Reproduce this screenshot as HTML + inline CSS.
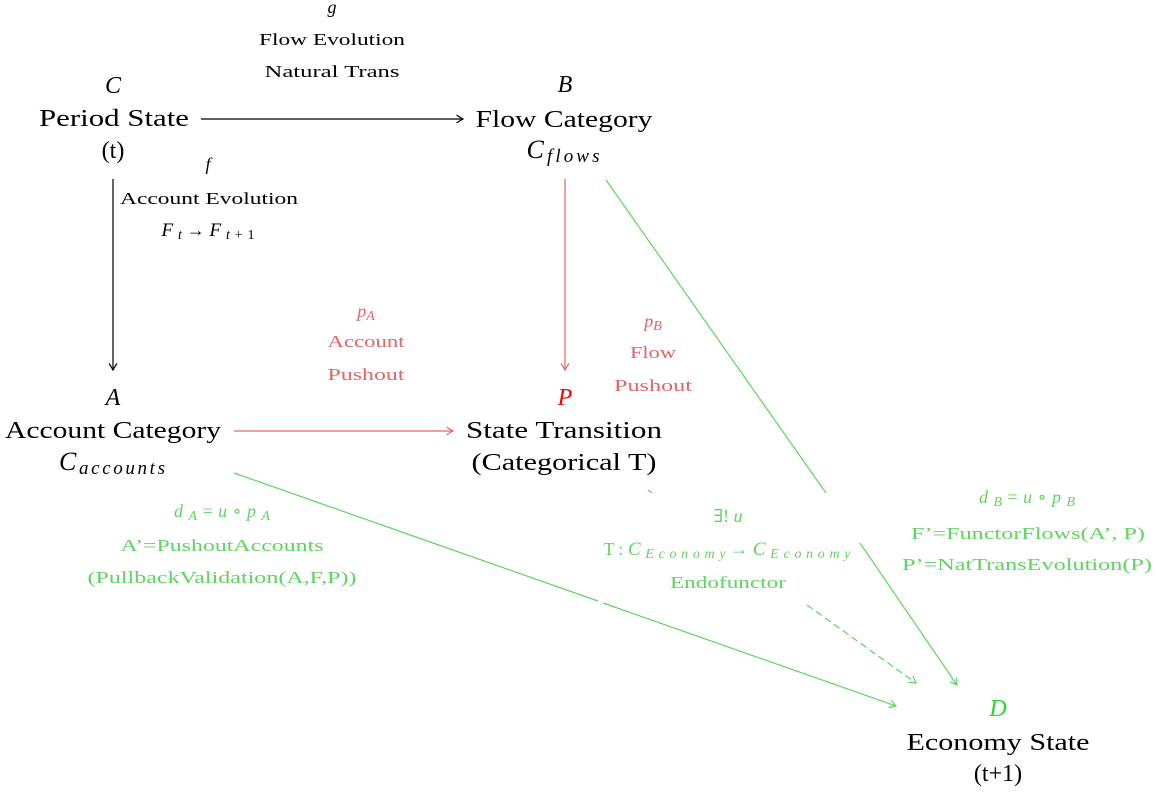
<!DOCTYPE html>
<html><head><meta charset="utf-8"><style>
html,body{margin:0;padding:0;background:#fff;}
svg{display:block;}
text{font-family:"Liberation Serif","DejaVu Serif",serif;}
.big{font-size:24px;fill:#000;}
.sm{font-size:17px;}
.it{font-style:italic;}
.r{fill:#e06666;}
.g{fill:#5fd35f;}
</style></head><body>
<svg width="1158" height="795" viewBox="0 0 1158 795" xmlns="http://www.w3.org/2000/svg">
<defs>
<marker id="ak" viewBox="-8 -5 10 10" refX="0" refY="0" markerWidth="10" markerHeight="10" markerUnits="userSpaceOnUse" orient="auto"><path d="M-6.5,-4 Q-2,-1 0,0 Q-2,1 -6.5,4" fill="none" stroke="#000" stroke-width="1.2"/></marker>
<marker id="ar" viewBox="-8 -5 10 10" refX="0" refY="0" markerWidth="10" markerHeight="10" markerUnits="userSpaceOnUse" orient="auto"><path d="M-6.5,-4 Q-2,-1 0,0 Q-2,1 -6.5,4" fill="none" stroke="#e06666" stroke-width="1.2"/></marker>
<marker id="ag" viewBox="-8 -5 10 10" refX="0" refY="0" markerWidth="10" markerHeight="10" markerUnits="userSpaceOnUse" orient="auto"><path d="M-6.5,-4 Q-2,-1 0,0 Q-2,1 -6.5,4" fill="none" stroke="#5fd35f" stroke-width="1.2"/></marker>
</defs>

<!-- edges -->
<line x1="201" y1="119" x2="463" y2="119" stroke="#000" stroke-width="1.2" marker-end="url(#ak)"/>
<line x1="113" y1="179" x2="113" y2="370" stroke="#000" stroke-width="1.2" marker-end="url(#ak)"/>
<line x1="234" y1="431" x2="453" y2="431" stroke="#e06666" stroke-width="1.2" marker-end="url(#ar)"/>
<line x1="565" y1="179" x2="565" y2="370" stroke="#e06666" stroke-width="1.2" marker-end="url(#ar)"/>
<line x1="606" y1="180" x2="826" y2="493" stroke="#5fd35f" stroke-width="1.2"/>
<line x1="860" y1="543" x2="957" y2="685" stroke="#5fd35f" stroke-width="1.2" marker-end="url(#ag)"/>
<line x1="234" y1="473" x2="598" y2="601" stroke="#5fd35f" stroke-width="1.2"/>
<line x1="603" y1="603" x2="896" y2="706" stroke="#5fd35f" stroke-width="1.2" marker-end="url(#ag)"/>
<line x1="807" y1="605" x2="916" y2="683" stroke="#5fd35f" stroke-width="1.2" stroke-dasharray="7,4" marker-end="url(#ag)"/>
<line x1="648" y1="490" x2="652" y2="493" stroke="#5fd35f" stroke-width="1.2"/>

<!-- C node -->
<text class="big it" x="113" y="93" text-anchor="middle">C</text>
<text class="big" x="114" y="126" text-anchor="middle" textLength="150" lengthAdjust="spacingAndGlyphs">Period State</text>
<text class="big" x="113" y="158" text-anchor="middle">(t)</text>

<!-- B node -->
<text class="big it" x="565" y="92" text-anchor="middle">B</text>
<text class="big" x="564" y="127" text-anchor="middle" textLength="177" lengthAdjust="spacingAndGlyphs">Flow Category</text>
<text class="big" x="563" y="158" text-anchor="middle" textLength="73"><tspan class="it" style="font-size:26px">C</tspan><tspan class="it" style="font-size:19px" dy="4">flows</tspan></text>

<!-- A node -->
<text class="big it" x="113" y="405" text-anchor="middle">A</text>
<text class="big" x="113" y="438" text-anchor="middle" textLength="216" lengthAdjust="spacingAndGlyphs">Account Category</text>
<text class="big" x="112" y="470" text-anchor="middle" textLength="106"><tspan class="it" style="font-size:26px">C</tspan><tspan class="it" style="font-size:19px" dy="4">accounts</tspan></text>

<!-- P node -->
<text class="big it" x="565" y="405" text-anchor="middle" style="fill:#ff0000">P</text>
<text class="big" x="564" y="438" text-anchor="middle" textLength="196" lengthAdjust="spacingAndGlyphs">State Transition</text>
<text class="big" x="564" y="470" text-anchor="middle" textLength="185" lengthAdjust="spacingAndGlyphs">(Categorical T)</text>

<!-- D node -->
<text class="big it" x="998" y="716" text-anchor="middle" style="fill:#22dd22">D</text>
<text class="big" x="998" y="750" text-anchor="middle" textLength="183" lengthAdjust="spacingAndGlyphs">Economy State</text>
<text class="big" x="998" y="781" text-anchor="middle">(t+1)</text>

<!-- g label -->
<text class="it" x="332" y="13" text-anchor="middle" style="font-size:18px">g</text>
<text class="sm" x="332" y="45" text-anchor="middle" textLength="146" lengthAdjust="spacingAndGlyphs">Flow Evolution</text>
<text class="sm" x="332" y="77" text-anchor="middle" textLength="135" lengthAdjust="spacingAndGlyphs">Natural Trans</text>

<!-- f label -->
<text class="it" x="208" y="170" text-anchor="middle" style="font-size:18px">f</text>
<text class="sm" x="209" y="204" text-anchor="middle" textLength="178" lengthAdjust="spacingAndGlyphs">Account Evolution</text>
<text x="208" y="236" text-anchor="middle" textLength="93" style="font-size:18px"><tspan class="it" style="font-size:19px">F</tspan><tspan class="it" style="font-size:14px" dy="3">t</tspan><tspan dy="-3">→</tspan><tspan class="it" style="font-size:19px">F</tspan><tspan class="it" style="font-size:14px" dy="3">t</tspan><tspan style="font-size:14px">+1</tspan></text>

<!-- p_A label -->
<text class="r" x="366" y="317" text-anchor="middle" style="font-size:18px"><tspan class="it">p</tspan><tspan class="it" style="font-size:14px" dy="3">A</tspan></text>
<text class="sm r" x="366" y="347" text-anchor="middle" textLength="77" lengthAdjust="spacingAndGlyphs">Account</text>
<text class="sm r" x="366" y="380" text-anchor="middle" textLength="77" lengthAdjust="spacingAndGlyphs">Pushout</text>

<!-- p_B label -->
<text class="r" x="653" y="327" text-anchor="middle" style="font-size:18px"><tspan class="it">p</tspan><tspan class="it" style="font-size:14px" dy="3">B</tspan></text>
<text class="sm r" x="653" y="358" text-anchor="middle" textLength="46" lengthAdjust="spacingAndGlyphs">Flow</text>
<text class="sm r" x="653" y="391" text-anchor="middle" textLength="78" lengthAdjust="spacingAndGlyphs">Pushout</text>

<!-- d_A label -->
<text class="g" x="222" y="517" text-anchor="middle" textLength="96" style="font-size:18px"><tspan class="it">d</tspan><tspan class="it" style="font-size:14px" dy="3">A</tspan><tspan dy="-3">=</tspan><tspan class="it">u</tspan><tspan>∘</tspan><tspan class="it">p</tspan><tspan class="it" style="font-size:14px" dy="3">A</tspan></text>
<text class="sm g" x="222" y="551" text-anchor="middle" textLength="203" lengthAdjust="spacingAndGlyphs">A’=PushoutAccounts</text>
<text class="sm g" x="222" y="583" text-anchor="middle" textLength="269" lengthAdjust="spacingAndGlyphs">(PullbackValidation(A,F,P))</text>

<!-- u label -->
<text class="g" x="728" y="522" text-anchor="middle" style="font-size:18px">∃! <tspan class="it">u</tspan></text>
<text class="g" x="727" y="555" text-anchor="middle" textLength="247" style="font-size:18px">T:<tspan class="it" style="font-size:19px">C</tspan><tspan class="it" style="font-size:14px" dy="3">Economy</tspan><tspan dy="-3">→</tspan><tspan class="it" style="font-size:19px">C</tspan><tspan class="it" style="font-size:14px" dy="3">Economy</tspan></text>
<text class="sm g" x="728" y="588" text-anchor="middle" textLength="116" lengthAdjust="spacingAndGlyphs">Endofunctor</text>

<!-- d_B label -->
<text class="g" x="1027" y="503" text-anchor="middle" textLength="96" style="font-size:18px"><tspan class="it">d</tspan><tspan class="it" style="font-size:14px" dy="3">B</tspan><tspan dy="-3">=</tspan><tspan class="it">u</tspan><tspan>∘</tspan><tspan class="it">p</tspan><tspan class="it" style="font-size:14px" dy="3">B</tspan></text>
<text class="sm g" x="1028" y="539" text-anchor="middle" textLength="234" lengthAdjust="spacingAndGlyphs">F’=FunctorFlows(A’, P)</text>
<text class="sm g" x="1027" y="570" text-anchor="middle" textLength="250" lengthAdjust="spacingAndGlyphs">P’=NatTransEvolution(P)</text>
</svg>
</body></html>
